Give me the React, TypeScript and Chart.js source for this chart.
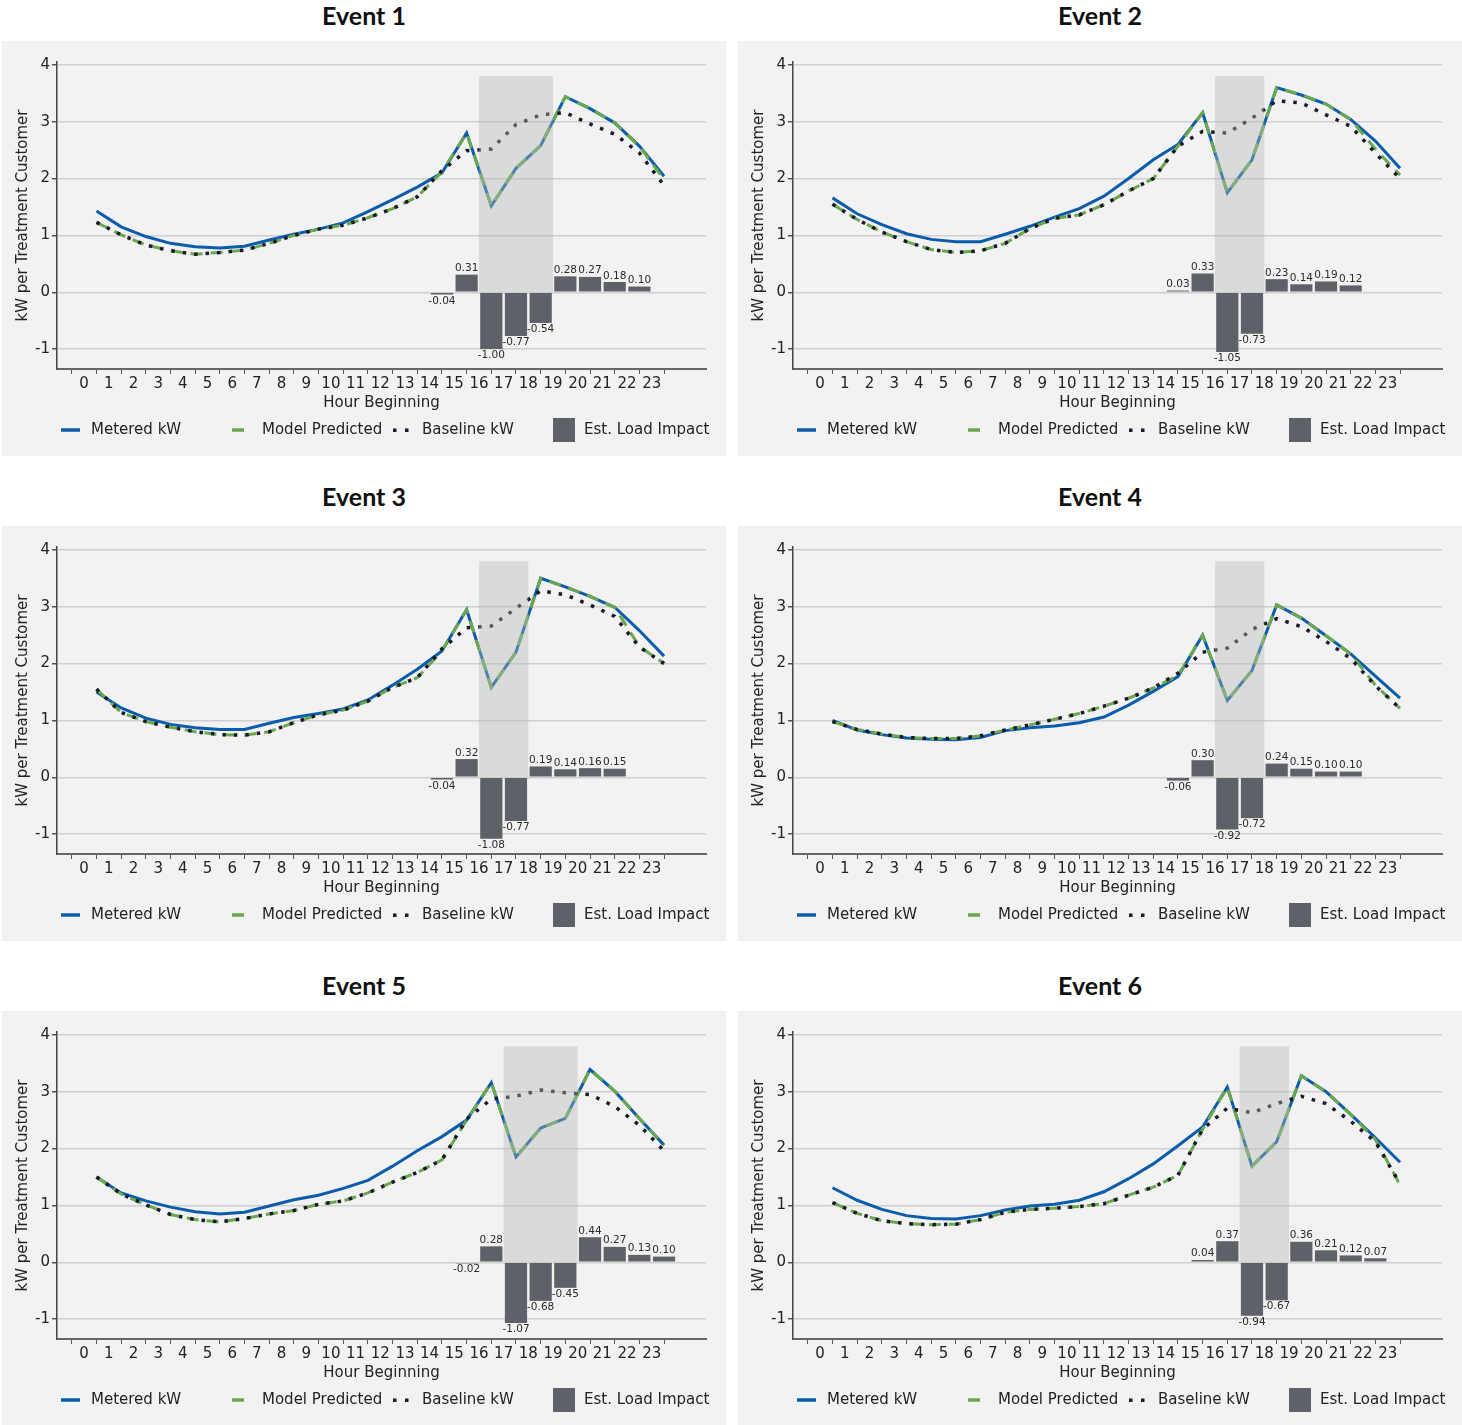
import { useEffect, useRef } from "react";
import { Chart, registerables } from "chart.js";

Chart.register(...registerables);

// Shared axes
const hours = [0, 1, 2, 3, 4, 5, 6, 7, 8, 9, 10, 11, 12, 13, 14, 15, 16, 17, 18, 19, 20, 21, 22, 23];
const yTicks = [-1, 0, 1, 2, 3, 4];

// Event 1
const event1Metered = [1.43, 1.15, 0.98, 0.86, 0.8, 0.78, 0.81, 0.92, 1.02, 1.11, 1.22, 1.42, 1.63, 1.85, 2.1, 2.8, 1.52, 2.18, 2.58, 3.44, 3.23, 2.98, 2.57, 2.04];
const event1Model = [1.23, 1.01, 0.83, 0.73, 0.67, 0.7, 0.74, 0.86, 1.0, 1.11, 1.18, 1.31, 1.47, 1.68, 2.12, 2.8, 1.52, 2.18, 2.58, 3.44, 3.23, 2.98, 2.57, 1.98];
const event1Baseline = [1.23, 1.01, 0.83, 0.73, 0.67, 0.7, 0.74, 0.86, 1.0, 1.11, 1.18, 1.31, 1.47, 1.68, 2.14, 2.49, 2.52, 2.95, 3.12, 3.16, 2.96, 2.78, 2.45, 1.88];
const event1ImpactHours = [14, 15, 16, 17, 18, 19, 20, 21, 22];
const event1Impact = [-0.04, 0.31, -1.0, -0.77, -0.54, 0.28, 0.27, 0.18, 0.1];
const event1Window = [16, 19];

// Event 2
const event2Metered = [1.66, 1.38, 1.19, 1.03, 0.93, 0.89, 0.89, 1.02, 1.16, 1.32, 1.47, 1.69, 2.0, 2.33, 2.6, 3.16, 1.75, 2.33, 3.6, 3.47, 3.31, 3.04, 2.66, 2.18];
const event2Model = [1.55, 1.28, 1.06, 0.89, 0.75, 0.7, 0.73, 0.86, 1.12, 1.3, 1.36, 1.54, 1.78, 2.0, 2.57, 3.16, 1.75, 2.33, 3.6, 3.47, 3.31, 3.04, 2.52, 2.06];
const event2Baseline = [1.55, 1.28, 1.06, 0.89, 0.75, 0.7, 0.73, 0.86, 1.12, 1.3, 1.36, 1.54, 1.78, 2.0, 2.57, 2.83, 2.8, 3.06, 3.37, 3.33, 3.12, 2.92, 2.45, 2.0];
const event2ImpactHours = [14, 15, 16, 17, 18, 19, 20, 21];
const event2Impact = [0.03, 0.33, -1.05, -0.73, 0.23, 0.14, 0.19, 0.12];
const event2Window = [16, 18];

// Event 3
const event3Metered = [1.5, 1.22, 1.04, 0.93, 0.87, 0.84, 0.84, 0.95, 1.05, 1.12, 1.2, 1.36, 1.62, 1.9, 2.22, 2.95, 1.58, 2.2, 3.5, 3.35, 3.18, 2.99, 2.58, 2.13];
const event3Model = [1.55, 1.14, 0.98, 0.88, 0.8, 0.75, 0.74, 0.8, 0.96, 1.1, 1.18, 1.34, 1.58, 1.75, 2.22, 2.95, 1.58, 2.2, 3.5, 3.35, 3.18, 2.99, 2.3, 2.0];
const event3Baseline = [1.55, 1.14, 0.98, 0.88, 0.8, 0.75, 0.74, 0.8, 0.96, 1.1, 1.18, 1.34, 1.58, 1.75, 2.26, 2.63, 2.66, 2.97, 3.28, 3.21, 3.03, 2.83, 2.29, 2.0];
const event3ImpactHours = [14, 15, 16, 17, 18, 19, 20, 21];
const event3Impact = [-0.04, 0.32, -1.08, -0.77, 0.19, 0.14, 0.16, 0.15];
const event3Window = [16, 18];

// Event 4
const event4Metered = [1.0, 0.83, 0.75, 0.69, 0.67, 0.66, 0.7, 0.82, 0.87, 0.9, 0.96, 1.06, 1.27, 1.51, 1.77, 2.5, 1.35, 1.88, 3.03, 2.8, 2.49, 2.17, 1.78, 1.39];
const event4Model = [0.98, 0.84, 0.76, 0.7, 0.68, 0.68, 0.73, 0.83, 0.92, 1.02, 1.12, 1.25, 1.39, 1.57, 1.79, 2.5, 1.35, 1.88, 3.03, 2.8, 2.49, 2.17, 1.62, 1.21];
const event4Baseline = [0.98, 0.84, 0.76, 0.7, 0.68, 0.68, 0.73, 0.83, 0.92, 1.02, 1.12, 1.25, 1.39, 1.57, 1.83, 2.2, 2.27, 2.6, 2.79, 2.65, 2.39, 2.09, 1.61, 1.21];
const event4ImpactHours = [14, 15, 16, 17, 18, 19, 20, 21];
const event4Impact = [-0.06, 0.3, -0.92, -0.72, 0.24, 0.15, 0.1, 0.1];
const event4Window = [16, 18];

// Event 5
const event5Metered = [1.5, 1.22, 1.08, 0.97, 0.89, 0.85, 0.88, 0.99, 1.1, 1.18, 1.3, 1.44, 1.69, 1.96, 2.21, 2.5, 3.16, 1.85, 2.36, 2.53, 3.39, 3.01, 2.53, 2.06];
const event5Model = [1.5, 1.2, 1.01, 0.84, 0.75, 0.71, 0.77, 0.85, 0.91, 1.02, 1.08, 1.22, 1.41, 1.58, 1.8, 2.5, 3.16, 1.85, 2.36, 2.53, 3.39, 3.01, 2.53, 2.06];
const event5Baseline = [1.5, 1.2, 1.01, 0.84, 0.75, 0.71, 0.77, 0.85, 0.91, 1.02, 1.08, 1.22, 1.41, 1.58, 1.8, 2.52, 2.87, 2.92, 3.03, 2.98, 2.95, 2.74, 2.41, 1.96];
const event5ImpactHours = [15, 16, 17, 18, 19, 20, 21, 22, 23];
const event5Impact = [-0.02, 0.28, -1.07, -0.68, -0.45, 0.44, 0.27, 0.13, 0.1];
const event5Window = [17, 20];

// Event 6
const event6Metered = [1.31, 1.09, 0.93, 0.82, 0.77, 0.76, 0.82, 0.92, 0.99, 1.02, 1.09, 1.24, 1.47, 1.73, 2.05, 2.38, 3.08, 1.69, 2.12, 3.28, 3.0, 2.6, 2.19, 1.76];
const event6Model = [1.05, 0.86, 0.73, 0.68, 0.66, 0.67, 0.75, 0.88, 0.93, 0.95, 0.98, 1.03, 1.18, 1.32, 1.53, 2.34, 3.08, 1.69, 2.12, 3.28, 3.0, 2.6, 2.16, 1.36];
const event6Baseline = [1.05, 0.86, 0.73, 0.68, 0.66, 0.67, 0.75, 0.88, 0.93, 0.95, 0.98, 1.03, 1.18, 1.32, 1.53, 2.34, 2.71, 2.63, 2.79, 2.92, 2.79, 2.48, 2.12, 1.38];
const event6ImpactHours = [15, 16, 17, 18, 19, 20, 21, 22];
const event6Impact = [0.04, 0.37, -0.94, -0.67, 0.36, 0.21, 0.12, 0.07];
const event6Window = [17, 19];

const BLUE = "#0b5cab";
const GREEN = "#6aa84f";
const DOTS = "#1a1a2a";
const BAR = "#5e6167";
const TEXT = "#222222";
const PANEL_BG = "#f2f2f2";
const FONT = "'DejaVu Sans', sans-serif";
const PANEL_W = 724;
const PANEL_H = 415;

type PanelProps = {
  title: string;
  left: number;
  top: number;
  titleY: number;
  metered: number[];
  model: number[];
  baseline: number[];
  impactHours: number[];
  impact: number[];
  window: number[];
};

function EventPanel(p: PanelProps) {
  const ref = useRef<HTMLCanvasElement | null>(null);

  useEffect(() => {
    const canvas = ref.current;
    if (!canvas) return;
    const toPoints = (vals: number[]) => hours.map((h, i) => ({ x: h + 0.5, y: vals[i] }));

    // Event window shading, laid over the lines so they show through lighter
    const shadePlugin = {
      id: "eventShade",
      afterDatasetsDraw(chart: any) {
        const { ctx, scales } = chart;
        const x0 = scales.x.getPixelForValue(p.window[0]);
        const x1 = scales.x.getPixelForValue(p.window[1]);
        const y0 = scales.y.getPixelForValue(3.8);
        const y1 = scales.y.getPixelForValue(0);
        ctx.save();
        ctx.fillStyle = "rgba(180,183,182,0.4)";
        ctx.fillRect(x0, y0, x1 - x0, y1 - y0);
        ctx.restore();
      },
    };

    // Value labels on the load-impact bars
    const barLabelPlugin = {
      id: "barLabels",
      afterDatasetsDraw(chart: any) {
        const meta = chart.getDatasetMeta(3);
        const values = chart.data.datasets[3].data as { x: number; y: number }[];
        const { ctx } = chart;
        ctx.save();
        ctx.font = `10.5px ${FONT}`;
        ctx.fillStyle = "#2a2a2a";
        ctx.textAlign = "center";
        meta.data.forEach((el: any, i: number) => {
          const v = values[i].y;
          const { x, y } = el.getProps(["x", "y"], true);
          if (v >= 0) {
            ctx.textBaseline = "bottom";
            ctx.fillText(v.toFixed(2), x, y - 1);
          } else {
            ctx.textBaseline = "top";
            ctx.fillText(v.toFixed(2), x, y + 1);
          }
        });
        ctx.restore();
      },
    };

    // Legend row beneath the axis
    const legendPlugin = {
      id: "legendRow",
      afterDraw(chart: any) {
        const { ctx } = chart;
        const cy = 389;
        ctx.save();
        ctx.lineCap = "butt";
        ctx.lineWidth = 3.5;
        ctx.strokeStyle = BLUE;
        ctx.beginPath();
        ctx.moveTo(59, cy);
        ctx.lineTo(78, cy);
        ctx.stroke();
        ctx.strokeStyle = GREEN;
        ctx.beginPath();
        ctx.moveTo(230, cy);
        ctx.lineTo(242, cy);
        ctx.stroke();
        ctx.fillStyle = DOTS;
        ctx.fillRect(391, cy - 1.5, 3.5, 3.5);
        ctx.fillRect(403, cy - 1.5, 3.5, 3.5);
        ctx.fillStyle = BAR;
        ctx.fillRect(551, 377, 22, 24);
        ctx.fillStyle = TEXT;
        ctx.font = `15px ${FONT}`;
        ctx.textAlign = "left";
        ctx.textBaseline = "middle";
        ctx.fillText("Metered kW", 89, cy);
        ctx.fillText("Model Predicted", 260, cy);
        ctx.fillText("Baseline kW", 420, cy);
        ctx.fillText("Est. Load Impact", 582, cy);
        ctx.restore();
      },
    };

    const chart = new Chart(canvas, {
      type: "line",
      data: {
        datasets: [
          {
            type: "line",
            label: "Baseline kW",
            data: toPoints(p.baseline),
            borderColor: DOTS,
            borderWidth: 3.5,
            borderDash: [3.5, 8],
            borderCapStyle: "butt",
            pointRadius: 0,
            tension: 0,
            fill: false,
            order: 0,
          },
          {
            type: "line",
            label: "Model Predicted",
            data: toPoints(p.model),
            borderColor: GREEN,
            borderWidth: 3,
            borderDash: [12, 8],
            borderCapStyle: "butt",
            pointRadius: 0,
            tension: 0,
            fill: false,
            order: 1,
          },
          {
            type: "line",
            label: "Metered kW",
            data: toPoints(p.metered),
            borderColor: BLUE,
            borderWidth: 3,
            pointRadius: 0,
            tension: 0,
            fill: false,
            order: 2,
          },
          {
            type: "bar",
            label: "Est. Load Impact",
            data: p.impactHours.map((h, i) => ({ x: h + 0.5, y: p.impact[i] })),
            backgroundColor: BAR,
            borderWidth: 0,
            barPercentage: 0.9,
            categoryPercentage: 1,
            order: 3,
          },
        ] as any,
      },
      options: {
        responsive: false,
        animation: false,
        devicePixelRatio: 1,
        events: [],
        layout: { padding: { left: 0, right: 20, top: 21, bottom: 44 } },
        plugins: { legend: { display: false }, tooltip: { enabled: false } },
        scales: {
          x: {
            type: "linear",
            min: -1.1,
            max: 25.2,
            offset: false,
            afterBuildTicks: (scale: any) => {
              scale.ticks = hours.map((v) => ({ value: v }));
            },
            afterFit: (scale: any) => {
              scale.height = 43;
            },
            ticks: {
              autoSkip: false,
              maxRotation: 0,
              minRotation: 0,
              padding: 1,
              color: TEXT,
              font: { size: 15, family: FONT },
              callback: (v: any) => String(v),
            },
            grid: { drawOnChartArea: false, drawTicks: true, tickLength: 5, tickColor: "#555", lineWidth: 1 },
            border: { display: true, color: "#666", width: 2 },
            title: {
              display: true,
              text: "Hour Beginning",
              color: TEXT,
              font: { size: 15, family: FONT, lineHeight: 1.2 },
              padding: { top: 0, bottom: 0 },
            },
          },
          y: {
            type: "linear",
            min: -1.35,
            max: 4.05,
            afterBuildTicks: (scale: any) => {
              scale.ticks = yTicks.map((v) => ({ value: v }));
            },
            afterFit: (scale: any) => {
              scale.width = 55;
            },
            ticks: {
              padding: 2,
              color: TEXT,
              font: { size: 15, family: FONT },
              callback: (v: any) => String(v),
            },
            grid: { color: "#cfcfcf", lineWidth: 1.5, drawTicks: true, tickLength: 5, tickColor: "#555" },
            border: { display: true, color: "#444", width: 1.5 },
            title: {
              display: true,
              text: "kW per Treatment Customer",
              color: TEXT,
              font: { size: 15, family: FONT, lineHeight: 1.2 },
              padding: { top: 12, bottom: 0 },
            },
          },
        },
      } as any,
      plugins: [shadePlugin, barLabelPlugin, legendPlugin],
    });
    return () => chart.destroy();
  }, []);

  return (
    <>
      <div
        style={{
          position: "absolute",
          left: p.left,
          top: p.titleY - 16,
          width: PANEL_W,
          height: 32,
          lineHeight: "32px",
          textAlign: "center",
          fontFamily: "Lato, 'DejaVu Sans', sans-serif",
          fontWeight: 700,
          fontSize: 25,
          color: "#111",
        }}
      >
        {p.title}
      </div>
      <div
        style={{
          position: "absolute",
          left: p.left,
          top: p.top,
          width: PANEL_W,
          height: PANEL_H,
          background: PANEL_BG,
        }}
      >
        <canvas ref={ref} width={PANEL_W} height={PANEL_H} style={{ display: "block", width: PANEL_W, height: PANEL_H }} />
      </div>
    </>
  );
}

export default function App() {
  return (
    <div style={{ position: "absolute", left: 0, top: 0, width: 1462, height: 1425, background: "#ffffff", overflow: "hidden" }}>
      <EventPanel title="Event 1" left={2} top={41} titleY={15} metered={event1Metered} model={event1Model} baseline={event1Baseline} impactHours={event1ImpactHours} impact={event1Impact} window={event1Window} />
      <EventPanel title="Event 2" left={738} top={41} titleY={15} metered={event2Metered} model={event2Model} baseline={event2Baseline} impactHours={event2ImpactHours} impact={event2Impact} window={event2Window} />
      <EventPanel title="Event 3" left={2} top={526} titleY={496} metered={event3Metered} model={event3Model} baseline={event3Baseline} impactHours={event3ImpactHours} impact={event3Impact} window={event3Window} />
      <EventPanel title="Event 4" left={738} top={526} titleY={496} metered={event4Metered} model={event4Model} baseline={event4Baseline} impactHours={event4ImpactHours} impact={event4Impact} window={event4Window} />
      <EventPanel title="Event 5" left={2} top={1011} titleY={985} metered={event5Metered} model={event5Model} baseline={event5Baseline} impactHours={event5ImpactHours} impact={event5Impact} window={event5Window} />
      <EventPanel title="Event 6" left={738} top={1011} titleY={985} metered={event6Metered} model={event6Model} baseline={event6Baseline} impactHours={event6ImpactHours} impact={event6Impact} window={event6Window} />
    </div>
  );
}
